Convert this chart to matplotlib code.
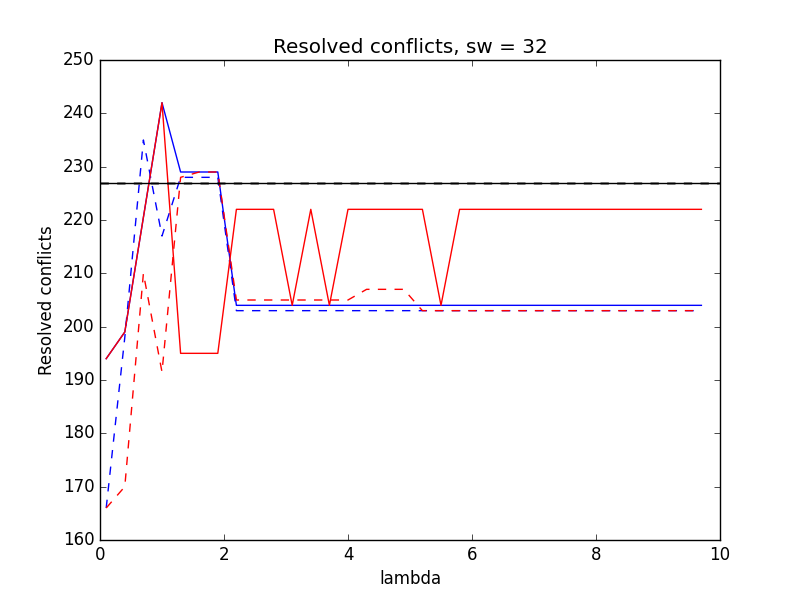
import numpy as np
import matplotlib
matplotlib.use('Agg')
import matplotlib.pyplot as plt

plt.style.use('classic')

# lambda values (0.1 .. 9.7, step 0.3)
lam = np.round(np.arange(0.1, 9.75, 0.3), 1)

# blue solid
blue_solid = [194, 199, 220.5, 242, 229, 229, 229] + [204] * 26
# blue dashed
blue_dash = [166, 198, 235, 217, 228, 228, 228] + [203] * 26
# red solid
red_solid = [194, 199, 220.5, 242, 195, 195, 195,
             222, 222, 222, 204, 222, 204, 222, 222, 222, 222, 222,
             204, 222] + [222] * 13
# red dashed
red_dash = [166, 170, 210, 191.5, 228, 229, 229,
            205, 205, 205, 205, 205, 205, 205,
            207, 207, 207] + [203] * 16

ref_solid = 227
ref_dash = 227

fig = plt.figure(figsize=(8, 6), dpi=100)
ax = fig.add_subplot(111)
ax.plot(lam, blue_solid, 'b-')
ax.plot(lam, blue_dash, 'b--')
ax.plot(lam, red_solid, 'r-')
ax.plot(lam, red_dash, 'r--')
ax.axhline(ref_dash, color='k', linestyle='--', alpha=0.5, lw=2)
ax.axhline(ref_solid, color='k', linestyle='-')
ax.set_xlim(0, 10)
ax.set_ylim(160, 250)
ax.set_title('Resolved conflicts, sw = 32')
ax.set_xlabel('lambda')
ax.set_ylabel('Resolved conflicts')

plt.savefig('out.png', dpi=100, facecolor='white')
